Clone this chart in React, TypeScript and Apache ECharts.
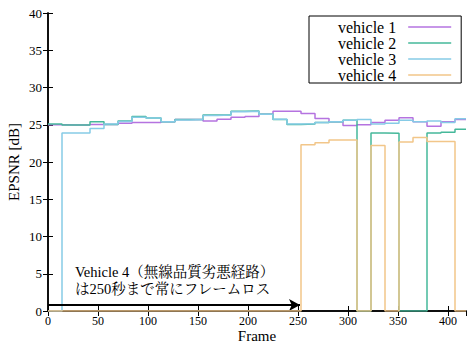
import React, { useEffect, useRef } from "react";
import * as echarts from "echarts";

// Step boundaries (frame numbers) and end frame
const frames = [0, 14, 28, 42, 56, 70, 84, 98, 113, 127, 141, 155, 169, 183, 197, 211, 225, 239, 253, 267, 281, 295, 309, 323, 337, 351, 365, 379, 393, 407];
const endFrame = 418;

const seriesNames = ["vehicle 1", "vehicle 2", "vehicle 3", "vehicle 4"];

const vehicle1 = [25.0, 24.95, 24.95, 25.05, 25.05, 25.2, 25.3, 25.3, 25.4, 25.7, 25.7, 25.5, 25.75, 26.0, 26.1, 26.4, 26.8, 26.8, 26.5, 25.85, 25.4, 24.9, 25.0, 25.3, 25.6, 25.95, 25.4, 24.8, 25.4, 25.7];
const vehicle2 = [25.1, 24.95, 24.95, 25.4, 25.05, 25.5, 26.1, 25.9, 25.4, 25.7, 25.7, 26.3, 26.3, 26.8, 26.85, 26.4, 25.7, 25.05, 25.1, 25.3, 25.4, 25.6, 0, 23.9, 23.85, 0, 0, 23.9, 24.0, 24.4];
const vehicle3 = [0, 23.9, 23.9, 24.5, 25.1, 25.45, 26.0, 25.9, 25.4, 25.65, 25.7, 26.25, 26.3, 26.75, 26.8, 26.4, 25.75, 25.1, 25.15, 25.3, 25.4, 25.6, 25.7, 25.1, 25.2, 25.6, 25.4, 25.5, 25.3, 25.8];
const vehicle4 = [0, 0, 0, 0, 0, 0, 0, 0, 0, 0, 0, 0, 0, 0, 0, 0, 0, 0, 22.3, 22.6, 22.95, 22.95, 0, 22.2, 0, 22.7, 23.3, 22.75, 22.75, 0];

const colors = ["#b573e0", "#45b89a", "#86cbe6", "#f2c689"];

const xTicks = { min: 0, max: endFrame, interval: 50 };
const yTicks = { min: 0, max: 40, interval: 5 };

const arrowY = 0.8;
const arrowEnd = 252;
const noteText = "Vehicle 4（無線品質劣悪経路）\nは250秒まで常にフレームロス";

const serif = "'Liberation Serif', 'Times New Roman', 'Noto Serif CJK JP', 'Noto Sans CJK JP', serif";

function toSteps(vals: number[]) {
  const pts = frames.map((f, i) => [f, vals[i]]);
  pts.push([endFrame, vals[vals.length - 1]]);
  return pts;
}

export default function App() {
  const ref = useRef<HTMLDivElement>(null);
  useEffect(() => {
    document.body.style.margin = "0";
    const chart = echarts.init(ref.current!, null, { renderer: "svg" });
    const allVals = [vehicle1, vehicle2, vehicle3, vehicle4];
    const axisLine = { show: true, lineStyle: { color: "#000", width: 1.5 } };
    const tick = { show: true, inside: true, length: 5, lineStyle: { color: "#000", width: 1 } };
    chart.setOption({
      animation: false,
      backgroundColor: "#fff",
      grid: { left: 48, right: 1, top: 13, bottom: 33, containLabel: false, outerBoundsMode: "none" },
      legend: {
        orient: "vertical",
        left: 309,
        top: 16,
        align: "right",
        padding: [3, 10, 0, 29],
        itemGap: 0,
        itemWidth: 43,
        itemHeight: 1.5,
        icon: "rect",
        borderColor: "#000",
        borderWidth: 1,
        borderRadius: 0,
        backgroundColor: "#fff",
        data: seriesNames,
        textStyle: { fontSize: 16, lineHeight: 16, fontFamily: serif, color: "#000", padding: [0, 7, 0, 0] },
      },
      xAxis: [
        {
          type: "value",
          ...xTicks,
          name: "Frame",
          nameLocation: "middle",
          nameGap: 18,
          nameMoveOverlap: false,
          nameTextStyle: { fontSize: 15, fontFamily: serif, color: "#000", verticalAlign: "top", lineHeight: 14 },
          axisLine,
          axisTick: tick,
          splitLine: { show: false },
          axisLabel: { fontSize: 12, fontFamily: serif, color: "#000", margin: 4, showMaxLabel: false },
        },
        {
          type: "value",
          position: "top",
          ...xTicks,
          axisLine,
          axisTick: tick,
          splitLine: { show: false },
          axisLabel: { show: false },
        },
      ],
      yAxis: [
        {
          type: "value",
          ...yTicks,
          name: "EPSNR [dB]",
          nameLocation: "middle",
          nameGap: 27,
          nameMoveOverlap: false,
          nameTextStyle: { fontSize: 15, fontFamily: serif, color: "#000" },
          axisLine,
          axisTick: tick,
          splitLine: { show: false },
          axisLabel: { fontSize: 13, fontFamily: serif, color: "#000", margin: 6 },
        },
        {
          type: "value",
          position: "right",
          ...yTicks,
          axisLine,
          axisTick: tick,
          splitLine: { show: false },
          axisLabel: { show: false },
        },
      ],
      series: seriesNames.map((name, i) => ({
        name,
        type: "line",
        step: "end",
        xAxisIndex: 0,
        yAxisIndex: 0,
        symbol: "none",
        showSymbol: false,
        color: colors[i],
        lineStyle: { color: colors[i], width: 1.5 },
        data: toSteps(allVals[i]),
        z: 2 + i,
        ...(i === 3
          ? {
              markLine: {
                silent: true,
                symbol: ["none", "arrow"],
                symbolSize: [9, 11],
                lineStyle: { color: "#000", width: 2, type: "solid" },
                label: { show: false },
                data: [[{ coord: [0, arrowY] }, { coord: [arrowEnd, arrowY] }]],
              },
            }
          : {}),
      })),
      graphic: [
        {
          type: "text",
          left: 75,
          top: 263,
          z: 10,
          style: {
            text: noteText,
            fontSize: 14.5,
            lineHeight: 17,
            fontFamily: serif,
            fill: "#000",
          },
        },
      ],
    });
    return () => chart.dispose();
  }, []);
  return <div ref={ref} style={{ width: 467, height: 344 }} />;
}
